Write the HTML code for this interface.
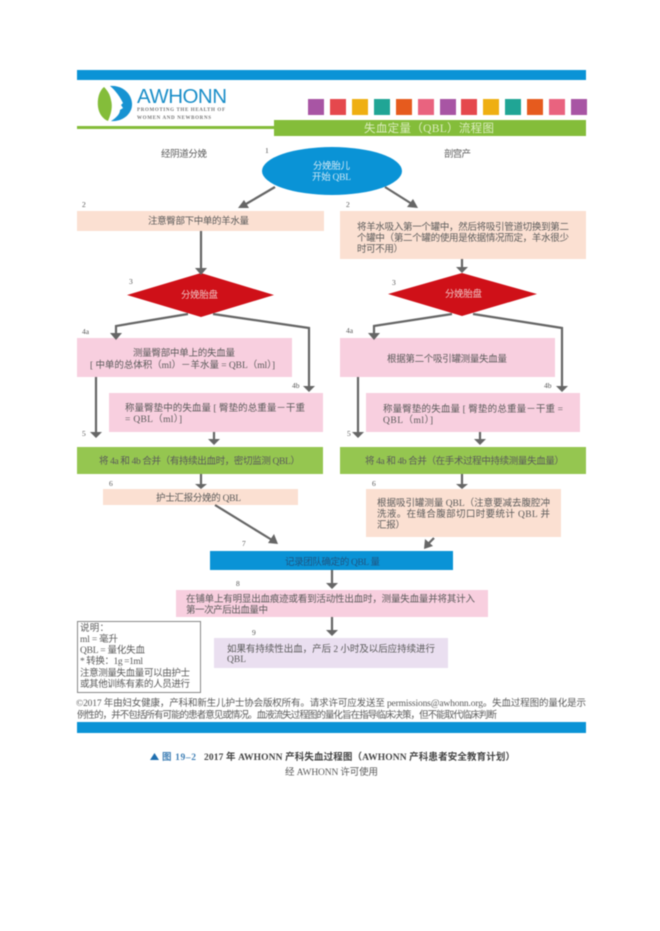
<!DOCTYPE html>
<html><head><meta charset="utf-8"><style>
html,body{margin:0;padding:0;background:#fff;width:660px;height:931px;overflow:hidden}
svg{display:block}
text{font-family:"Liberation Serif","Noto Sans CJK SC",sans-serif;fill:#5a5a5a;font-size:9.5px}
.n{font-size:7.5px;fill:#555}
.a{stroke:#666;stroke-width:2.2;fill:none}
.h{fill:#666}
</style></head><body>
<svg width="660" height="931" viewBox="0 0 660 931" style="filter:blur(.5px)">
<rect x="77" y="70" width="509" height="10" fill="#0a93d6"/>
<!-- logo -->
<path d="M104 87C99 91 97 99 98 107C99 114 103 119 108 121C111 114 113 107 111 100C110 94 107 90 104 87Z" fill="#84bd3a"/>
<path d="M110 86C122 85 131 93 132 103C133 114 122 122 111 121C116 118 120 114 120 110L123 108L121 105L123 103C120 97 116 91 110 86Z" fill="#1793d2"/>
<text x="137" y="103" style="font:20.500px 'Liberation Sans',sans-serif;fill:#1c8fc9" textLength="90">AWHONN</text>
<text x="137" y="111" style="font:bold 5px 'Liberation Serif',serif;fill:#777" textLength="88">PROMOTING THE HEALTH OF</text>
<text x="137" y="119" style="font:bold 5px 'Liberation Serif',serif;fill:#777" textLength="74">WOMEN AND NEWBORNS</text>
<rect x="308" y="99" width="16" height="16" fill="#a855a4"/><rect x="330" y="99" width="16" height="16" fill="#e5484d"/><rect x="352" y="99" width="16" height="16" fill="#efaf12"/><rect x="374" y="99" width="16" height="16" fill="#20a595"/><rect x="396" y="99" width="16" height="16" fill="#e65b1e"/><rect x="418" y="99" width="16" height="16" fill="#e9637f"/><rect x="440" y="99" width="16" height="16" fill="#a855a4"/><rect x="461" y="99" width="16" height="16" fill="#e5484d"/><rect x="483" y="99" width="16" height="16" fill="#efaf12"/><rect x="505" y="99" width="16" height="16" fill="#20a595"/><rect x="527" y="99" width="16" height="16" fill="#e65b1e"/><rect x="549" y="99" width="16" height="16" fill="#e9637f"/><rect x="571" y="99" width="16" height="16" fill="#a855a4"/>
<rect x="77" y="126" width="198" height="3" fill="#84bd3a"/>
<rect x="274" y="120" width="312" height="16" fill="#84bd3a"/>
<text x="364" y="132" style="font-size:11.5px;fill:#dcedc0" textLength="130">失血定量（QBL）流程图</text>

<text x="161" y="157" textLength="46" style="font-size:9.5px">经阴道分娩</text>
<text x="444" y="157" textLength="27" style="font-size:9.5px">剖宫产</text>
<ellipse cx="332" cy="171" rx="70" ry="24" fill="#0a93d6"/>
<text x="313" y="169" textLength="37" style="fill:#cfe8f5">分娩胎儿</text>
<text x="312" y="180" textLength="39" style="fill:#cfe8f5">开始 QBL</text>

<!-- boxes -->
<rect x="77" y="211" width="247" height="20" fill="#fbe0d2"/>
<rect x="340" y="211" width="246" height="48" fill="#fbe0d2"/>
<polygon points="127,295 201,273 274,295 201,317" fill="#cf1018"/>
<polygon points="388,294 462,273 537,294 462,316" fill="#cf1018"/>
<rect x="77" y="338" width="215" height="39" fill="#f8cfdf"/>
<rect x="109" y="393" width="214" height="39" fill="#f8cfdf"/>
<rect x="340" y="338" width="215" height="39" fill="#f8cfdf"/>
<rect x="366" y="393" width="214" height="39" fill="#f8cfdf"/>
<rect x="77" y="447" width="246" height="27" fill="#95c650"/>
<rect x="340" y="447" width="246" height="27" fill="#95c650"/>
<rect x="103" y="489" width="195" height="16" fill="#fbe0d2"/>
<rect x="366" y="489" width="195" height="48" fill="#fbe0d2"/>
<rect x="210" y="551" width="243" height="19" fill="#0a93d6"/>
<rect x="176" y="590" width="312" height="27" fill="#f8cfdf"/>
<rect x="214" y="638" width="234" height="30" fill="#eadff0"/>
<rect x="77.500" y="621.500" width="123" height="71" fill="#fff" stroke="#888" stroke-width="1"/>

<!-- connectors -->
<path class="a" d="M275 187L246 204M385 187L412 204M201 231V268M116 335V326L188 314M213 314L309 328V386M96 377V432M214 432V441M201 474V484M215 505L272 540M332 570V583M332 617V632M462 259V269M374 335V326L452 314M473 314L562 328V386M358 377V432M480 432V441M462 474V484M434 538L428 544"/>
<g class="h">
<polygon points="238,208 249,208 244,200"/>
<polygon points="418,208 407,207 413,199"/>
<polygon points="195,268 207,268 201,275"/>
<polygon points="110,333 122,333 116,340"/>
<polygon points="303,386 315,386 309,392"/>
<polygon points="90,432 102,432 96,438"/>
<polygon points="208,439 220,439 214,445"/>
<polygon points="195,484 207,484 201,489"/>
<polygon points="278,544 268,543 274,534"/>
<polygon points="326,583 338,583 332,589"/>
<polygon points="326,630 338,630 332,636"/>
<polygon points="456,267 468,267 462,273"/>
<polygon points="368,333 380,333 374,340"/>
<polygon points="556,386 568,386 562,392"/>
<polygon points="352,432 364,432 358,438"/>
<polygon points="474,439 486,439 480,445"/>
<polygon points="456,484 468,484 462,489"/>
<polygon points="424,549 425,539 433,546"/>
</g>

<!-- number labels -->
<text class="n" x="265" y="153">1</text><text class="n" x="82" y="207">2</text><text class="n" x="346" y="207">2</text>
<text class="n" x="129" y="284">3</text><text class="n" x="392" y="285">3</text>
<text class="n" x="82" y="334">4a</text><text class="n" x="292" y="388">4b</text><text class="n" x="82" y="436">5</text><text class="n" x="109" y="486">6</text>
<text class="n" x="346" y="333">4a</text><text class="n" x="544" y="388">4b</text><text class="n" x="347" y="436">5</text><text class="n" x="372" y="486">6</text>
<text class="n" x="242" y="546">7</text><text class="n" x="236" y="586">8</text><text class="n" x="252" y="635">9</text>

<!-- box text -->
<text x="148" y="224" textLength="101">注意臀部下中单的羊水量</text>
<text x="357" y="230" textLength="212">将羊水吸入第一个罐中，然后将吸引管道切换到第二</text>
<text x="357" y="241" textLength="212">个罐中（第二个罐的使用是依据情况而定，羊水很少</text>
<text x="357" y="252" textLength="46">时可不用）</text>
<text x="181" y="298" textLength="37" style="fill:#f0c0c0">分娩胎盘</text>
<text x="445" y="297" textLength="37" style="fill:#f0c0c0">分娩胎盘</text>
<text x="133" y="356" textLength="102">测量臀部中单上的失血量</text>
<text x="90" y="368" textLength="185">[ 中单的总体积（ml）－羊水量 = QBL（ml）]</text>
<text x="387" y="362" textLength="120">根据第二个吸引罐测量失血量</text>
<text x="125" y="411" textLength="180">称量臀垫中的失血量 [ 臀垫的总重量－干重</text>
<text x="125" y="422" textLength="57">= QBL（ml）]</text>
<text x="383" y="412" textLength="180">称量臀垫的失血量 [ 臀垫的总重量－干重 =</text>
<text x="383" y="423" textLength="50">QBL（ml）]</text>
<text x="99" y="464" textLength="201">将 4a 和 4b 合并（有持续出血时，密切监测 QBL）</text>
<text x="365" y="464" textLength="199">将 4a 和 4b 合并（在手术过程中持续测量失血量）</text>
<text x="156" y="501" textLength="85">护士汇报分娩的 QBL</text>
<text x="377" y="506" textLength="173">根据吸引罐测量 QBL（注意要减去腹腔冲</text>
<text x="377" y="517" textLength="173">洗液。在缝合腹部切口时要统计 QBL 并</text>
<text x="377" y="528" textLength="28">汇报）</text>
<text x="285" y="565" textLength="95" style="fill:#1f5480">记录团队确定的 QBL 量</text>
<text x="186" y="602" textLength="289">在铺单上有明显出血痕迹或看到活动性出血时，测量失血量并将其计入</text>
<text x="186" y="613" textLength="82">第一次产后出血量中</text>
<text x="227" y="652" textLength="208">如果有持续性出血，产后 2 小时及以后应持续进行</text>
<text x="227" y="662" textLength="19">QBL</text>

<!-- legend -->
<text x="80" y="631" textLength="29">说明：</text>
<text x="80" y="642" textLength="38">ml = 毫升</text>
<text x="80" y="653" textLength="65">QBL = 量化失血</text>
<text x="80" y="664" textLength="63">* 转换：1g =1ml</text>
<text x="80" y="676" textLength="110">注意测量失血量可以由护士</text>
<text x="80" y="687" textLength="110">或其他训练有素的人员进行</text>

<!-- footer -->
<text x="76" y="706" textLength="510">©2017 年由妇女健康，产科和新生儿护士协会版权所有。请求许可应发送至 permissions@awhonn.org。失血过程图的量化是示</text>
<text x="77" y="718" textLength="420">例性的，并不包括所有可能的患者意见或情况。血液流失过程图的量化旨在指导临床决策，但不能取代临床判断</text>
<rect x="77" y="722" width="509" height="11" fill="#0a93d6"/>
<polygon points="150,760 159,760 154.500,753" fill="#1f6fb0"/>
<text x="162" y="760" textLength="34" style="font-weight:bold;fill:#3f7fb5">图 19–2</text>
<text x="204" y="760" textLength="311" style="font-weight:bold;fill:#444">2017 年 AWHONN 产科失血过程图（AWHONN 产科患者安全教育计划）</text>
<text x="285" y="775" textLength="93">经 AWHONN 许可使用</text>
</svg>
</body></html>
